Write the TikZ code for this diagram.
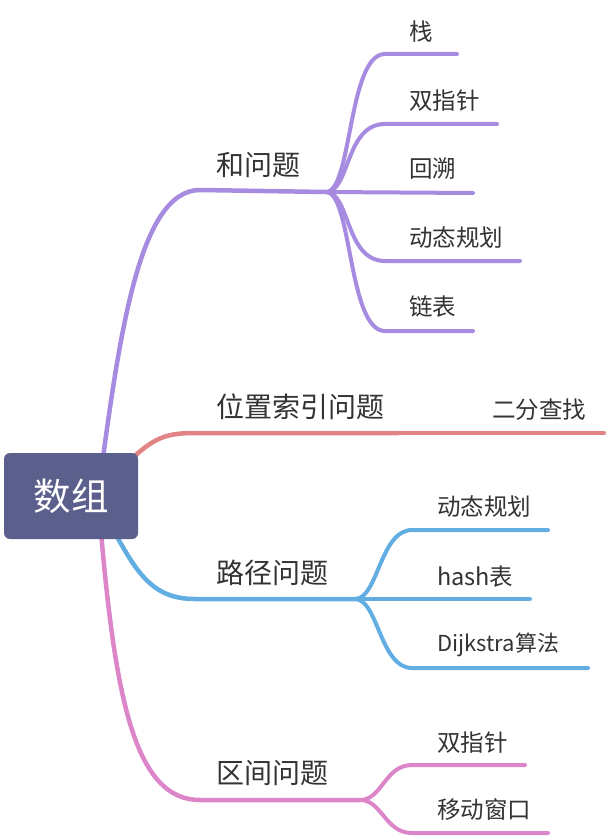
\documentclass[tikz,border=0pt]{standalone}
\usepackage{fontspec}
\setmainfont{Noto Sans CJK SC}
\definecolor{cpur}{HTML}{A68BE0}
\definecolor{cred}{HTML}{E28386}
\definecolor{cblu}{HTML}{62ADE2}
\definecolor{cpnk}{HTML}{DD85C9}
\definecolor{croot}{HTML}{5B5F8B}
\definecolor{ctxt}{HTML}{333333}
\tikzset{
  rootbox/.style={fill=croot, rounded corners=6pt, minimum width=134pt, minimum height=86pt, text=white, font=\fontsize{37.5}{40}\selectfont, inner sep=0pt},
  mainlbl/.style={anchor=west, text=ctxt, font=\fontsize{28}{32}\selectfont, inner sep=0pt},
  sublbl/.style={anchor=west, text=ctxt, font=\fontsize{23.5}{27}\selectfont, inner sep=0pt},
  mainln/.style={line width=4.5pt, line cap=round},
  subln/.style={line width=4pt, line cap=round},
}
\begin{document}
\begin{tikzpicture}[x=1pt,y=-1pt]
\useasboundingbox (0,0) rectangle (608,840);
% coordinates
\coordinate (sP) at (100,480);
\coordinate (fP) at (326,192);
\coordinate (sR) at (115,475);
\coordinate (fR) at (398,433);
\coordinate (eR) at (604,433);
\coordinate (sB) at (108,520);
\coordinate (fB) at (355,599);
\coordinate (sK) at (100,520);
\coordinate (fK) at (360,800);
% purple
\draw[mainln,cpur] (sP) .. controls (120,330) and (140,190) .. (200,190) -- (fP);
\coordinate (p1) at (457,54);
\coordinate (p2) at (497,124);
\coordinate (p3) at (473,193);
\coordinate (p4) at (520,261);
\coordinate (p5) at (473,331);
\draw[subln,cpur] (fP) .. controls (352,192) and (348,54) .. (385,54) -- (p1);
\draw[subln,cpur] (fP) .. controls (350,192) and (345,124) .. (385,124) -- (p2);
\draw[subln,cpur] (fP) -- (p3);
\draw[subln,cpur] (fP) .. controls (350,192) and (345,261) .. (385,261) -- (p4);
\draw[subln,cpur] (fP) .. controls (352,192) and (348,331) .. (385,331) -- (p5);
% red
\draw[mainln,cred] (sR) .. controls (150,440) and (160,433) .. (195,433) -- (fR);
\draw[subln,cred] (fR) -- (eR);
% blue
\draw[mainln,cblu] (sB) .. controls (135,570) and (150,599) .. (195,599) -- (fB);
\coordinate (b1) at (548,530);
\coordinate (b2) at (530,599);
\coordinate (b3) at (588,668);
\draw[subln,cblu] (fB) .. controls (378,599) and (380,530) .. (412,530) -- (b1);
\draw[subln,cblu] (fB) -- (b2);
\draw[subln,cblu] (fB) .. controls (378,599) and (380,668) .. (412,668) -- (b3);
% pink
\draw[mainln,cpnk] (sK) .. controls (115,700) and (135,800) .. (200,800) -- (fK);
\coordinate (k1) at (525,765);
\coordinate (k2) at (548,833);
\draw[subln,cpnk] (fK) .. controls (382,800) and (385,765) .. (412,765) -- (k1);
\draw[subln,cpnk] (fK) .. controls (382,800) and (385,833) .. (412,833) -- (k2);
% root
\node[rootbox] (root) at (71,496) {数组};
% main labels
\node[mainlbl] (l1) at (216,165) {和问题};
\node[mainlbl] (l2) at (216,407) {位置索引问题};
\node[mainlbl] (l3) at (216,573) {路径问题};
\node[mainlbl] (l4) at (216,773) {区间问题};
% sub labels
\node[sublbl] (s1) at (409,32) {栈};
\node[sublbl] (s2) at (409,101) {双指针};
\node[sublbl] (s3) at (409,169) {回溯};
\node[sublbl] (s4) at (409,238) {动态规划};
\node[sublbl] (s5) at (409,307) {链表};
\node[sublbl] (r1) at (492,410) {二分查找};
\node[sublbl] (t1) at (437,507) {动态规划};
\node[sublbl] (t2) at (437,577) {hash表};
\node[sublbl] (t3) at (437,645) {\fontsize{22}{26}\selectfont Dijkstra算法};
\node[sublbl] (u1) at (437,743) {双指针};
\node[sublbl] (u2) at (437,810) {移动窗口};
\end{tikzpicture}
\end{document}
